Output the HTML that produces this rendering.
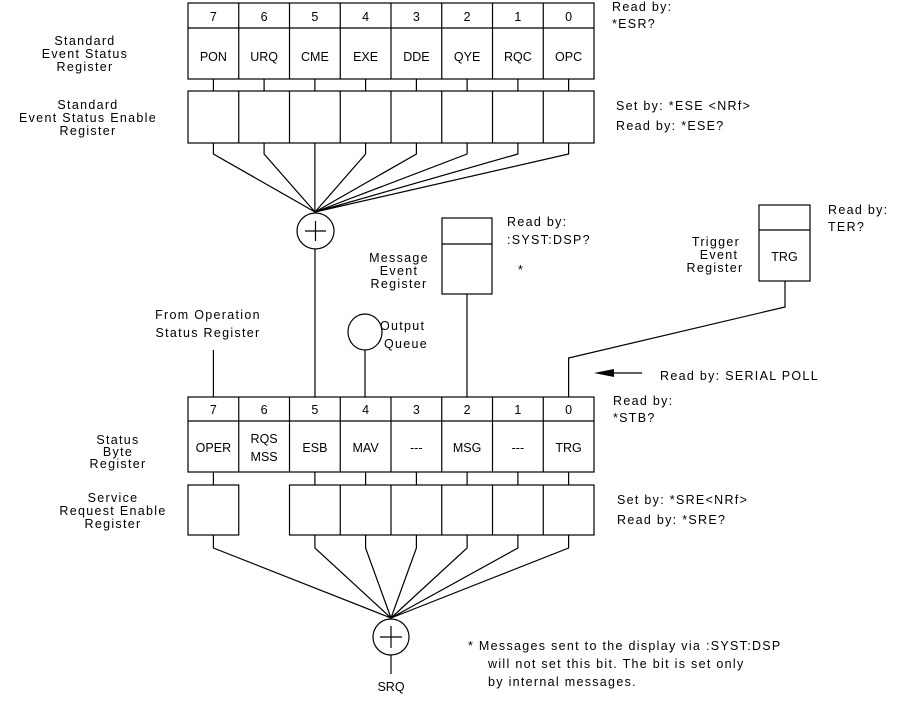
<!DOCTYPE html>
<html><head><style>body{margin:0;background:#fff}svg{display:block}text{font-family:"Liberation Sans",sans-serif;font-size:12.5px;fill:#000}.l{letter-spacing:1.3px}</style></head><body>
<svg width="900" height="718" viewBox="0 0 900 718" xmlns="http://www.w3.org/2000/svg">
<g fill="none" stroke="#000" stroke-width="1.2">
<!-- top register -->
<rect x="188" y="3" width="406" height="76"/><line x1="188" y1="28" x2="594" y2="28"/>
<path d="M238.75 3V79M289.5 3V79M340.25 3V79M391 3V79M441.75 3V79M492.5 3V79M543.25 3V79"/>
<path d="M213.4 79V91M264.1 79V91M314.9 79V91M365.6 79V91M416.4 79V91M467.1 79V91M517.9 79V91M568.6 79V91"/>
<rect x="188" y="91" width="406" height="52"/>
<path d="M238.75 91V143M289.5 91V143M340.25 91V143M391 91V143M441.75 91V143M492.5 91V143M543.25 91V143"/>
<path d="M213.4 143V154L315 212M264.1 143V154L315 212M314.9 143V212M365.6 143V154L315 212M416.4 143V154L315 212M467.1 143V154L315 212M517.9 143V154L315 212M568.6 143V154L315 212"/>
<ellipse cx="315.5" cy="231" rx="18.5" ry="18"/><path d="M305 231H326M315.5 221V241"/>
<line x1="315" y1="249" x2="315" y2="397"/>
<!-- message event -->
<rect x="442" y="218" width="50" height="76"/><line x1="442" y1="244" x2="492" y2="244"/>
<line x1="467" y1="294" x2="467" y2="397"/>
<!-- trigger -->
<rect x="759" y="205" width="51" height="76"/><line x1="759" y1="230" x2="810" y2="230"/>
<path d="M785 281V307L568.6 358V397"/>
<!-- output queue -->
<ellipse cx="365" cy="332" rx="17" ry="18"/><line x1="365" y1="350" x2="365" y2="397"/>
<line x1="213.4" y1="350" x2="213.4" y2="397"/>
<!-- status byte -->
<rect x="188" y="397" width="406" height="75"/><line x1="188" y1="421" x2="594" y2="421"/>
<path d="M238.75 397V472M289.5 397V472M340.25 397V472M391 397V472M441.75 397V472M492.5 397V472M543.25 397V472"/>
<path d="M213.4 472V485M314.9 472V485M365.6 472V485M416.4 472V485M467.1 472V485M517.9 472V485M568.6 472V485"/>
<rect x="188" y="485" width="50.75" height="50"/>
<rect x="289.5" y="485" width="304.5" height="50"/>
<path d="M340.25 485V535M391 485V535M441.75 485V535M492.5 485V535M543.25 485V535"/>
<path d="M213.4 535V548L391 618M314.9 535V548L391 618M365.6 535V548L391 618M416.4 535V548L391 618M467.1 535V548L391 618M517.9 535V548L391 618M568.6 535V548L391 618"/>
<ellipse cx="391" cy="637" rx="18" ry="18"/><path d="M380 637H402M391 626V648"/>
<line x1="391" y1="655" x2="391" y2="674"/>
<line x1="613" y1="373" x2="642" y2="373"/>
</g>
<polygon points="594,373 614,369 614,377" fill="#000"/>
<g text-anchor="middle">
<text x="213.4" y="21">7</text><text x="264.1" y="21">6</text><text x="314.9" y="21">5</text><text x="365.6" y="21">4</text><text x="416.4" y="21">3</text><text x="467.1" y="21">2</text><text x="517.9" y="21">1</text><text x="568.6" y="21">0</text>
<text x="213.4" y="61">PON</text><text x="264.1" y="61">URQ</text><text x="314.9" y="61">CME</text><text x="365.6" y="61">EXE</text><text x="416.4" y="61">DDE</text><text x="467.1" y="61">QYE</text><text x="517.9" y="61">RQC</text><text x="568.6" y="61">OPC</text>
<text x="213.4" y="414">7</text><text x="264.1" y="414">6</text><text x="314.9" y="414">5</text><text x="365.6" y="414">4</text><text x="416.4" y="414">3</text><text x="467.1" y="414">2</text><text x="517.9" y="414">1</text><text x="568.6" y="414">0</text>
<text x="213.4" y="452">OPER</text><text x="264.1" y="443">RQS</text><text x="264.1" y="461">MSS</text><text x="314.9" y="452">ESB</text><text x="365.6" y="452">MAV</text><text x="416.4" y="452">---</text><text x="467.1" y="452">MSG</text><text x="517.9" y="452">---</text><text x="568.6" y="452">TRG</text>
<text x="784.5" y="261">TRG</text>
<text x="391" y="691">SRQ</text>
</g>
<g class="l" text-anchor="middle">
<text x="85" y="45">Standard</text><text x="85" y="58">Event Status</text><text x="85" y="71">Register</text>
<text x="88" y="109">Standard</text><text x="88" y="122">Event Status Enable</text><text x="88" y="135">Register</text>
<text x="118" y="444">Status</text><text x="118" y="456">Byte</text><text x="118" y="468">Register</text>
<text x="113" y="502">Service</text><text x="113" y="515">Request Enable</text><text x="113" y="528">Register</text>
<text x="208" y="319">From Operation</text><text x="208" y="337">Status Register</text>
<text x="399" y="262">Message</text><text x="399" y="275">Event</text><text x="399" y="288">Register</text>
<text x="716" y="246">Trigger</text><text x="719" y="259">Event</text><text x="715" y="272">Register</text>
</g>
<g class="l">
<text x="612" y="11">Read by:</text><text x="612" y="28">*ESR?</text>
<text x="616" y="110">Set by: *ESE &lt;NRf&gt;</text><text x="616" y="130">Read by: *ESE?</text>
<text x="507" y="226">Read by:</text><text x="507" y="244">:SYST:DSP?</text>
<text x="518" y="274">*</text>
<text x="828" y="214">Read by:</text><text x="828" y="231">TER?</text>
<text x="380" y="330">Output</text><text x="384" y="348">Queue</text>
<text x="660" y="380">Read by: SERIAL POLL</text>
<text x="613" y="405">Read by:</text><text x="613" y="422">*STB?</text>
<text x="617" y="504">Set by: *SRE&lt;NRf&gt;</text><text x="617" y="524">Read by: *SRE?</text>
<text x="468" y="650">* Messages sent to the display via :SYST:DSP</text>
<text x="488" y="668">will not set this bit. The bit is set only</text>
<text x="488" y="686">by internal messages.</text>
</g>
</svg>
</body></html>
